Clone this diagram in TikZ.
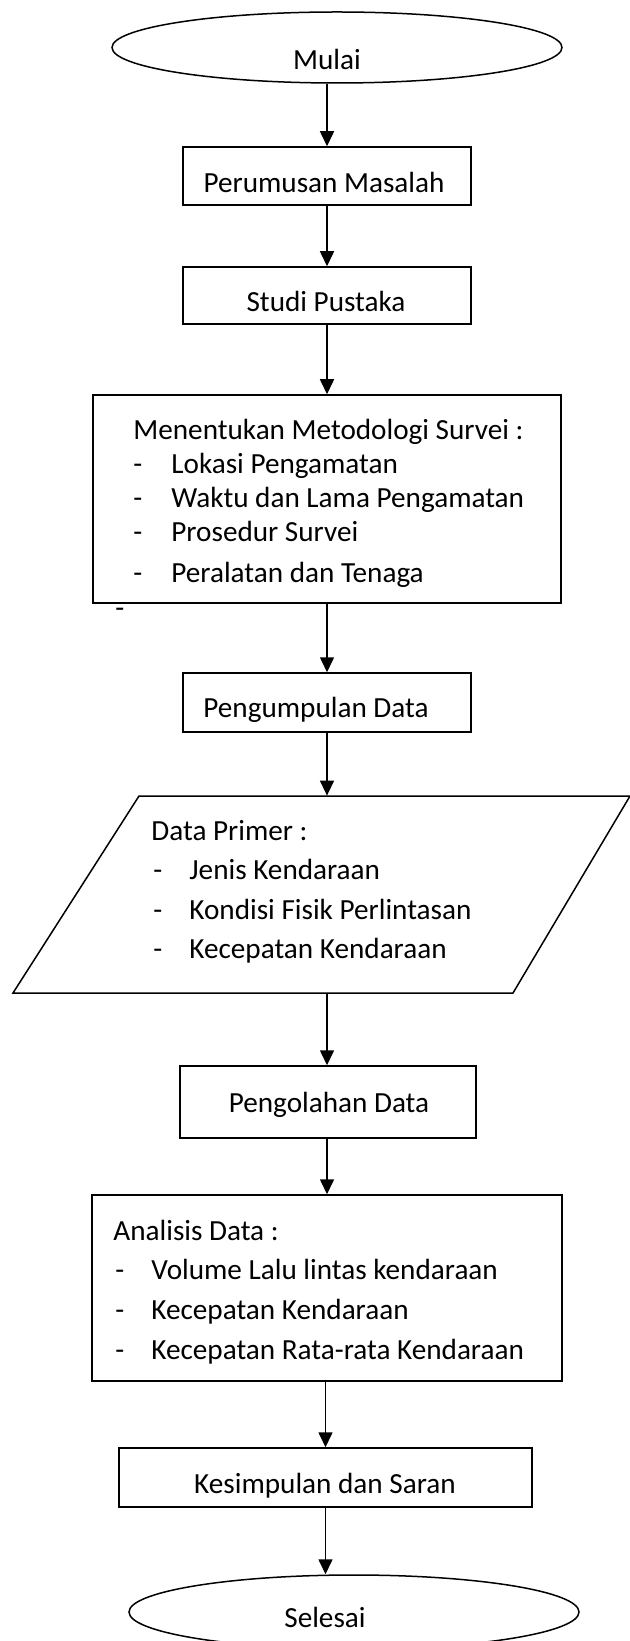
\documentclass[tikz,border=0pt]{standalone}
\usepackage{fontspec}
\setmainfont{Carlito}
\usetikzlibrary{shapes.geometric,arrows.meta}
\tikzset{
  box/.style={draw, line width=0.75pt, rectangle, inner sep=0pt},
  term/.style={draw, line width=0.75pt, ellipse, inner sep=0pt},
  arr/.style={line width=0.8pt, -{Triangle[length=7.5pt,width=7pt]}},
  txt/.style={inner sep=0pt, font=\fontsize{14.6pt}{17pt}\selectfont},
}
\begin{document}
\begin{tikzpicture}[x=0.5pt,y=-0.5pt]
\useasboundingbox (0,0) rectangle (630,1641);
% start
\node[term, minimum width=225pt, minimum height=35.5pt] (start) at (337,47.5) {};
\node[txt, anchor=base] (tstart) at (327,70) {Mulai};
% box1
\node[box, minimum width=144pt, minimum height=29pt] (b1) at (327,176) {};
\node[txt, anchor=base] (t1) at (324,193) {Perumusan Masalah};
% box2
\node[box, minimum width=144pt, minimum height=28.5pt] (b2) at (327,295.5) {};
\node[txt, anchor=base] (t2) at (326,312) {Studi Pustaka};
% box3
\node[box, minimum width=234pt, minimum height=104pt] (b3) at (327,499) {};
\node[txt, anchor=base west] (t3a) at (133,440) {Menentukan Metodologi Survei :};
\node[txt, anchor=base west] (t3bd) at (133,474) {-};
\node[txt, anchor=base west] (t3b) at (171,474) {Lokasi Pengamatan};
\node[txt, anchor=base west] (t3cd) at (133,508) {-};
\node[txt, anchor=base west] (t3c) at (171,508) {Waktu dan Lama Pengamatan};
\node[txt, anchor=base west] (t3dd) at (133,542) {-};
\node[txt, anchor=base west] (t3d) at (171,542) {Prosedur Survei};
\node[txt, anchor=base west] (t3ed) at (133,582) {-};
\node[txt, anchor=base west] (t3e) at (171,582) {Peralatan dan Tenaga};
\node[txt, anchor=base west] (stray) at (115,617) {-};
% box4
\node[box, minimum width=144pt, minimum height=29.5pt] (b4) at (327,702.5) {};
\node[txt, anchor=base west] (t4) at (203,717) {Pengumpulan Data};
% parallelogram
\coordinate (p1) at (139,796);
\coordinate (p2) at (630,796);
\coordinate (p3) at (513,993);
\coordinate (p4) at (13,993);
\draw[line width=0.75pt] (p1) -- (p2) -- (p3) -- (p4) -- cycle;
\node[inner sep=0pt, minimum width=150pt, minimum height=98.5pt] (par) at (329,894.5) {};
\node[txt, anchor=base west] (tpa) at (151,840) {Data Primer :};
\node[txt, anchor=base west] (tpbd) at (153,879) {-};
\node[txt, anchor=base west] (tpb) at (189,879) {Jenis Kendaraan};
\node[txt, anchor=base west] (tpcd) at (153,919) {-};
\node[txt, anchor=base west] (tpc) at (189,919) {Kondisi Fisik Perlintasan};
\node[txt, anchor=base west] (tpdd) at (153,958) {-};
\node[txt, anchor=base west] (tpd) at (189,958) {Kecepatan Kendaraan};
% box5
\node[box, minimum width=148pt, minimum height=36pt] (b5) at (328,1102) {};
\node[txt, anchor=base] (t5) at (329,1112) {Pengolahan Data};
% box6
\node[box, minimum width=235pt, minimum height=93pt] (b6) at (327,1288) {};
\node[txt, anchor=base west] (t6a) at (113,1240) {Analisis Data :};
\node[txt, anchor=base west] (t6bd) at (115,1279) {-};
\node[txt, anchor=base west] (t6b) at (151,1279) {Volume Lalu lintas kendaraan};
\node[txt, anchor=base west] (t6cd) at (115,1319) {-};
\node[txt, anchor=base west] (t6c) at (151,1319) {Kecepatan Kendaraan};
\node[txt, anchor=base west] (t6dd) at (115,1359) {-};
\node[txt, anchor=base west] (t6d) at (151,1359) {Kecepatan Rata-rata Kendaraan};
% box7
\node[box, minimum width=206.5pt, minimum height=29.5pt] (b7) at (325.5,1477.5) {};
\node[txt, anchor=base] (t7) at (325,1493) {Kesimpulan dan Saran};
% end
\node[term, minimum width=225pt, minimum height=37pt] (stop) at (354,1612) {};
\node[txt, anchor=base] (tstop) at (325,1627) {Selesai};
% connectors
\draw[arr] (b1.north |- start.south) -- (b1.north);
\draw[arr] (b1.south) -- (b2.north);
\draw[arr] (b2.south) -- (b3.north);
\draw[arr] (b3.south) -- (b4.north);
\draw[arr] (b4.south) -- (b4.south |- par.north);
\draw[arr] (b4.south |- par.south) -- (b4.south |- b5.north);
\draw[arr] (b4.south |- b5.south) -- (b4.south |- b6.north);
\draw[arr] (b7.north |- b6.south) -- (b7.north);
\draw[arr] (b7.south) -- (b7.south |- stop.north);
\end{tikzpicture}
\end{document}
